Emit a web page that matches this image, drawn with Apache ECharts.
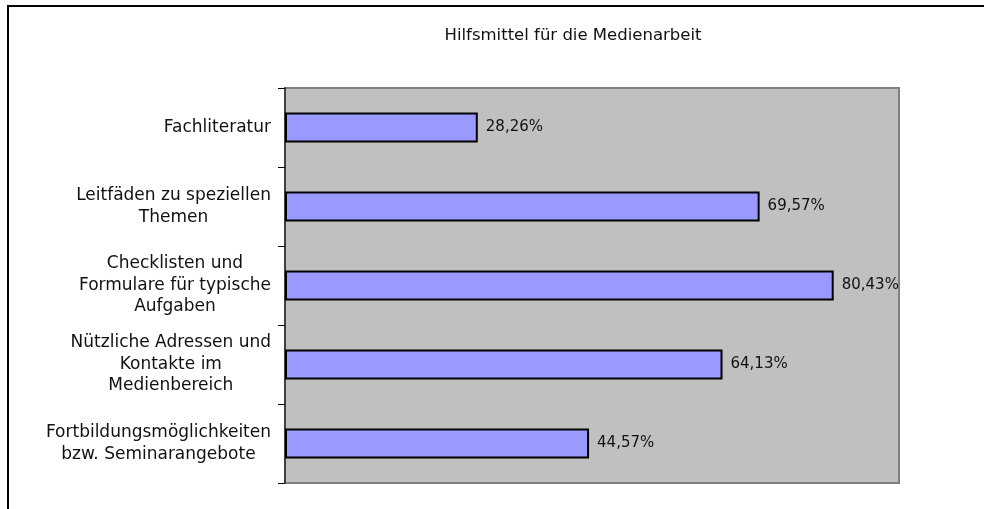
<!DOCTYPE html>
<html>
<head>
<meta charset="utf-8">
<script src="https://cdn.jsdelivr.net/npm/echarts@6/dist/echarts.min.js"></script>
<style>
  html, body { margin: 0; padding: 0; background: #fff; }
  #chart { width: 984px; height: 509px; }
</style>
</head>
<body>
<div id="chart"></div>
<script>
// Hilfsmittel für die Medienarbeit
var categories = [
  'Fachliteratur',
  'Leitfäden zu speziellen\nThemen',
  'Checklisten und\nFormulare für typische\nAufgaben',
  'Nützliche Adressen und\nKontakte im\nMedienbereich',
  'Fortbildungsmöglichkeiten\nbzw. Seminarangebote'
];
var values = [28.26, 69.57, 80.43, 64.13, 44.57];
var titleText = 'Hilfsmittel für die Medienarbeit';

var font = 'DejaVu Sans, Verdana, sans-serif';

var chart = echarts.init(document.getElementById('chart'));

var option = {
  backgroundColor: '#ffffff',
  animation: false,
  title: {
    text: titleText,
    left: 568,
    top: 22,
    textAlign: 'center',
    textStyle: {
      fontFamily: font,
      fontSize: 16.5,
      fontWeight: 'normal',
      color: '#111'
    }
  },
  graphic: [
    {
      // outer frame, only top + left visible
      type: 'rect',
      shape: { x: 8, y: 6, width: 1000, height: 540 },
      style: { fill: 'none', stroke: '#000', lineWidth: 2 },
      silent: true
    }
  ],
  grid: {
    left: 285,
    top: 88,
    right: 85,
    bottom: 26,
    show: true,
    backgroundColor: '#c0c0c0',
    borderColor: '#808080',
    borderWidth: 2
  },
  xAxis: {
    type: 'value',
    min: 0,
    max: 90,
    show: false
  },
  yAxis: {
    type: 'category',
    inverse: true,
    data: categories,
    axisLine: {
      show: true,
      lineStyle: { color: '#404040', width: 2 }
    },
    axisTick: {
      show: true,
      length: 7,
      lineStyle: { color: '#000', width: 1 }
    },
    axisLabel: {
      margin: 14,
      align: 'right',
      formatter: function (v) {
        return v.split('\n').map(function (s) { return '{c|' + s + '}'; }).join('\n');
      },
      rich: {
        c: {
          align: 'center',
          fontFamily: font,
          fontSize: 17,
          lineHeight: 21.5,
          color: '#111'
        }
      }
    },
    splitLine: { show: false }
  },
  series: [
    {
      type: 'bar',
      data: values,
      barWidth: 30,
      itemStyle: {
        color: '#9999ff',
        borderColor: '#000',
        borderWidth: 2
      },
      label: {
        show: true,
        position: 'right',
        distance: 8,
        fontFamily: font,
        fontSize: 15,
        color: '#111',
        formatter: function (p) {
          return p.value.toFixed(2).replace('.', ',') + '%';
        }
      }
    }
  ]
};

chart.setOption(option);
</script>
</body>
</html>
